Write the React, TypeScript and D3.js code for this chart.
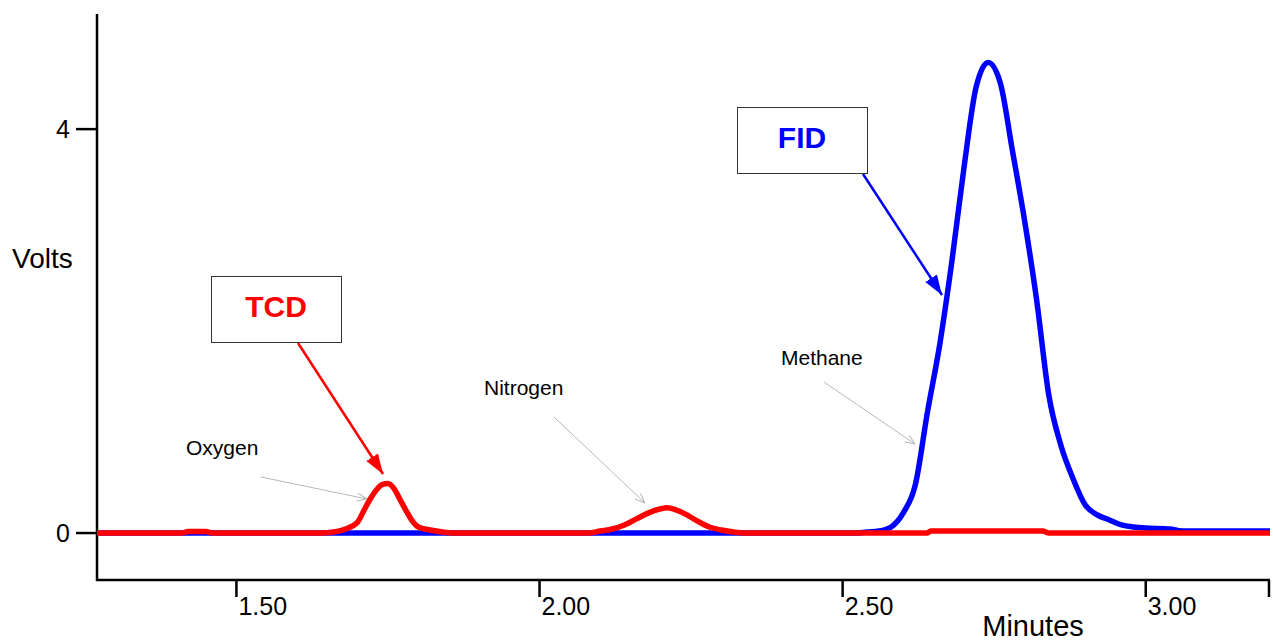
import React, { useRef, useEffect } from 'react';
import * as d3 from 'd3';

// FID trace (blue) - minutes / volts
const fidTimes = [1.27, 2.52, 2.54, 2.56, 2.58, 2.60, 2.62, 2.64, 2.66, 2.68, 2.70, 2.72, 2.74, 2.76, 2.78, 2.80, 2.82, 2.84, 2.86, 2.88, 2.90, 2.92, 2.94, 2.96, 2.98, 3.00, 3.04, 3.06, 3.205];
const fidVolts = [0, 0, 0.01, 0.02, 0.06, 0.20, 0.48, 1.2, 1.86, 2.68, 3.61, 4.41, 4.66, 4.46, 3.79, 3.10, 2.31, 1.37, 0.87, 0.54, 0.28, 0.18, 0.13, 0.08, 0.06, 0.05, 0.04, 0.02, 0.02];

// TCD trace (red)
const tcdTimes = [1.27, 1.41, 1.42, 1.45, 1.46, 1.64, 1.66, 1.68, 1.70, 1.71, 1.72, 1.73, 1.74, 1.75, 1.76, 1.77, 1.78, 1.79, 1.80, 1.82, 1.84, 1.86, 2.08, 2.10, 2.12, 2.14, 2.16, 2.18, 2.20, 2.21, 2.22, 2.24, 2.26, 2.28, 2.30, 2.32, 2.34, 2.64, 2.645, 2.83, 2.84, 3.205];
const tcdVolts = [0, 0, 0.015, 0.015, 0, 0, 0.01, 0.04, 0.11, 0.22, 0.33, 0.42, 0.48, 0.49, 0.44, 0.33, 0.22, 0.12, 0.06, 0.03, 0.01, 0, 0, 0.02, 0.04, 0.08, 0.14, 0.20, 0.24, 0.25, 0.24, 0.19, 0.12, 0.06, 0.03, 0.01, 0, 0, 0.02, 0.02, 0, 0];

const xTicks = [1.5, 2.0, 2.5, 3.0];
const xTickLabels = ['1.50', '2.00', '2.50', '3.00'];
const yTicks = [0, 4];

const FONT = "Arial, 'Liberation Sans', sans-serif";

const App: React.FC = () => {
    const svgRef = useRef<SVGSVGElement>(null);

    useEffect(() => {
        if (!svgRef.current) return;
        const width = 1273;
        const height = 644;

        d3.select(svgRef.current).selectAll('*').remove();
        const svg = d3.select(svgRef.current)
            .attr('width', width)
            .attr('height', height);

        const x = d3.scaleLinear().domain([1.27, 3.205]).range([97, 1270]);
        const y = d3.scaleLinear().domain([-0.465, 5.14]).range([580, 14]);

        const defs = svg.append('defs');
        const solidHead = (id: string, color: string) => {
            defs.append('marker')
                .attr('id', id)
                .attr('markerUnits', 'userSpaceOnUse')
                .attr('viewBox', '0 -8 20 16')
                .attr('refX', 20).attr('refY', 0)
                .attr('markerWidth', 20).attr('markerHeight', 16)
                .attr('orient', 'auto')
                .append('path')
                .attr('d', 'M0,-7L20,0L0,7Z')
                .attr('fill', color);
        };
        solidHead('head-red', '#ff0000');
        solidHead('head-blue', '#0000ff');
        defs.append('marker')
            .attr('id', 'head-gray')
            .attr('markerUnits', 'userSpaceOnUse')
            .attr('viewBox', '0 -5 10 10')
            .attr('refX', 10).attr('refY', 0)
            .attr('markerWidth', 10).attr('markerHeight', 10)
            .attr('orient', 'auto')
            .append('path')
            .attr('d', 'M0,-4L10,0L0,4')
            .attr('fill', 'none')
            .attr('stroke', '#b8b8b8')
            .attr('stroke-width', 1);

        // axes
        const axisG = svg.append('g').attr('stroke', '#000').attr('stroke-width', 2.5);
        axisG.append('line').attr('x1', 97).attr('x2', 97).attr('y1', 14).attr('y2', 581);
        axisG.append('line').attr('x1', 96).attr('x2', 1270).attr('y1', 580).attr('y2', 580);

        xTicks.forEach((t, i) => {
            axisG.append('line')
                .attr('x1', x(t)).attr('x2', x(t))
                .attr('y1', 580).attr('y2', 597);
            svg.append('text')
                .attr('x', x(t) + 2).attr('y', 615)
                .attr('font-family', FONT).attr('font-size', 25)
                .text(xTickLabels[i]);
        });
        axisG.append('line').attr('x1', 1269).attr('x2', 1269).attr('y1', 580).attr('y2', 597);

        yTicks.forEach(v => {
            axisG.append('line')
                .attr('x1', 76).attr('x2', 97)
                .attr('y1', y(v)).attr('y2', y(v));
            svg.append('text')
                .attr('x', 70).attr('y', y(v) + 9)
                .attr('text-anchor', 'end')
                .attr('font-family', FONT).attr('font-size', 25)
                .text(String(v));
        });

        svg.append('text').attr('x', 12).attr('y', 268)
            .attr('font-family', FONT).attr('font-size', 28).text('Volts');
        svg.append('text').attr('x', 1033).attr('y', 636)
            .attr('text-anchor', 'middle')
            .attr('font-family', FONT).attr('font-size', 29).text('Minutes');

        // traces
        const line = d3.line<[number, number]>()
            .x(d => x(d[0]))
            .y(d => y(d[1]))
            .curve(d3.curveMonotoneX);

        const fid = fidTimes.map((t, i) => [t, fidVolts[i]] as [number, number]);
        const tcd = tcdTimes.map((t, i) => [t, tcdVolts[i]] as [number, number]);

        svg.append('path').attr('d', line(fid))
            .attr('fill', 'none').attr('stroke', '#0000ff')
            .attr('stroke-width', 5.5).attr('stroke-linejoin', 'round');
        svg.append('path').attr('d', line(tcd))
            .attr('fill', 'none').attr('stroke', '#ff0000')
            .attr('stroke-width', 5.5).attr('stroke-linejoin', 'round');

        // peak name callouts
        const callouts = [
            { name: 'Oxygen', tx: 186, ty: 455, x1: 261, y1: 477, x2: 367, y2: 499 },
            { name: 'Nitrogen', tx: 484, ty: 395, x1: 554, y1: 417, x2: 645, y2: 503 },
            { name: 'Methane', tx: 781, ty: 365, x1: 824, y1: 382, x2: 915, y2: 444 },
        ];
        callouts.forEach(c => {
            svg.append('text').attr('x', c.tx).attr('y', c.ty)
                .attr('font-family', FONT).attr('font-size', 21).text(c.name);
            svg.append('line')
                .attr('x1', c.x1).attr('y1', c.y1).attr('x2', c.x2).attr('y2', c.y2)
                .attr('stroke', '#b8b8b8').attr('stroke-width', 1)
                .attr('marker-end', 'url(#head-gray)');
        });

        // detector boxes
        const boxes = [
            { label: 'TCD', color: '#ff0000', bx: 211, by: 276, bw: 130, bh: 66, ax1: 298, ay1: 343, ax2: 383, ay2: 474, head: 'head-red' },
            { label: 'FID', color: '#0000ff', bx: 737, by: 107, bw: 130, bh: 66, ax1: 863, ay1: 174, ax2: 942, ay2: 295, head: 'head-blue' },
        ];
        boxes.forEach(b => {
            svg.append('line')
                .attr('x1', b.ax1).attr('y1', b.ay1).attr('x2', b.ax2).attr('y2', b.ay2)
                .attr('stroke', b.color).attr('stroke-width', 2.5)
                .attr('marker-end', `url(#${b.head})`);
            svg.append('rect')
                .attr('x', b.bx + 0.5).attr('y', b.by + 0.5)
                .attr('width', b.bw).attr('height', b.bh)
                .attr('fill', '#fff').attr('stroke', '#333').attr('stroke-width', 1);
            svg.append('text')
                .attr('x', b.bx + b.bw / 2).attr('y', b.by + 41)
                .attr('text-anchor', 'middle')
                .attr('font-family', FONT).attr('font-size', 30).attr('font-weight', 'bold')
                .attr('fill', b.color)
                .text(b.label);
        });
    }, []);

    return (
        <svg ref={svgRef} style={{ position: 'absolute', left: 0, top: 0, background: '#fff' }}></svg>
    );
};

export default App;
